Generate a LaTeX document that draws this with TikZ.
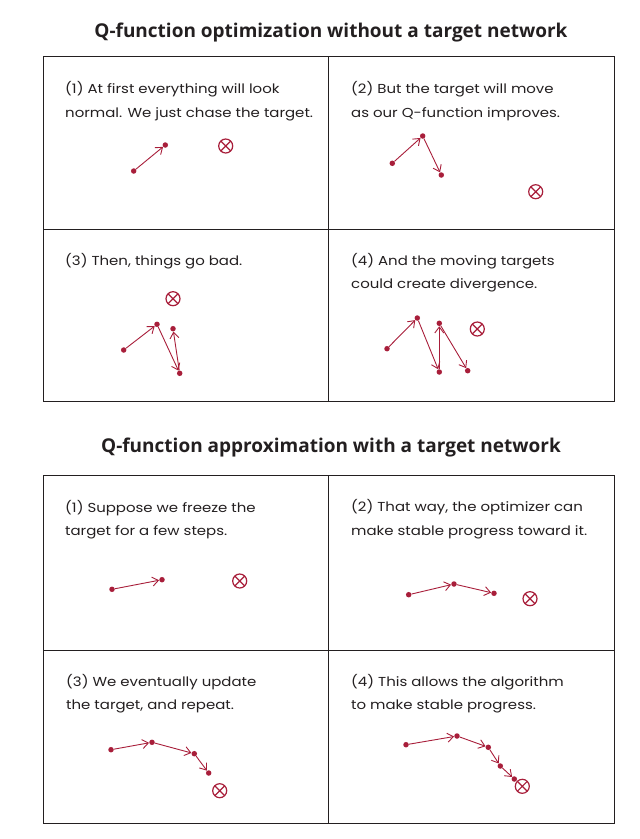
\documentclass[tikz,border=0pt]{standalone}
\usepackage{fontspec}
\setmainfont{Poppins}[FakeStretch=1.15]
\newfontfamily\titlefont{Open Sans}
\usetikzlibrary{arrows.meta}
\definecolor{crim}{RGB}{168,30,58}
\definecolor{ink}{RGB}{35,31,32}
\begin{document}
\begin{tikzpicture}[x=1pt,y=-1pt,
  panel/.style={draw=ink, line width=1.1pt, inner sep=0pt, anchor=north west},
  captxt/.style={anchor=base west, inner sep=0pt, text=ink, font=\fontsize{13}{15}\selectfont},
  ttl/.style={anchor=base, inner sep=0pt, text=ink, font=\titlefont\bfseries\fontsize{19}{21}\selectfont},
  qdot/.style={circle, fill=crim, inner sep=0pt, minimum size=5.5pt},
  arr/.style={draw=crim, line width=0.9pt, -{Straight Barb[length=6pt,width=9pt]}},
  tgt/.style={circle, draw=crim, line width=1.2pt, minimum size=14pt, inner sep=0pt,
    path picture={\draw[crim, line width=1.2pt]
      (path picture bounding box.north west) -- (path picture bounding box.south east)
      (path picture bounding box.north east) -- (path picture bounding box.south west);}}
]
\useasboundingbox (0,0) rectangle (640,839);

% titles
\node[ttl] (t1) at (331,37) {Q-function optimization without a target network};
\node[ttl] (t2) at (331,452) {Q-function approximation with a target network};

% panels top
\node[panel, minimum width=285pt, minimum height=173pt] (pA) at (43,56) {};
\node[panel, minimum width=286pt, minimum height=173pt] (pB) at (328,56) {};
\node[panel, minimum width=285pt, minimum height=172pt] (pC) at (43,229) {};
\node[panel, minimum width=286pt, minimum height=172pt] (pD) at (328,229) {};
% panels bottom
\node[panel, minimum width=285pt, minimum height=175pt] (pE) at (43,475) {};
\node[panel, minimum width=286pt, minimum height=175pt] (pF) at (328,475) {};
\node[panel, minimum width=285pt, minimum height=173pt] (pG) at (43,650) {};
\node[panel, minimum width=286pt, minimum height=173pt] (pH) at (328,650) {};

% captions
\node[captxt] (cA1) at (65,93) {(1) At first everything will look};
\node[captxt] (cA2) at (65,117) {normal. We just chase the target.};
\node[captxt] (cB1) at (351,93) {(2) But the target will move};
\node[captxt] (cB2) at (351,117) {as our Q-function improves.};
\node[captxt] (cC1) at (65,265) {(3) Then, things go bad.};
\node[captxt] (cD1) at (351,265) {(4) And the moving targets};
\node[captxt] (cD2) at (351,288) {could create divergence.};
\node[captxt] (cE1) at (65,512) {(1) Suppose we freeze the};
\node[captxt] (cE2) at (65,535) {target for a few steps.};
\node[captxt] (cF1) at (351,511) {(2) That way, the optimizer can};
\node[captxt] (cF2) at (351,535) {make stable progress toward it.};
\node[captxt] (cG1) at (66,686) {(3) We eventually update};
\node[captxt] (cG2) at (66,709) {the target, and repeat.};
\node[captxt] (cH1) at (351,686) {(4) This allows the algorithm};
\node[captxt] (cH2) at (351,709) {to make stable progress.};

% panel A
\node[qdot] (a1) at (133.7,171) {};
\node[qdot] (a2) at (165.3,145) {};
\node[tgt] (aT) at (225.7,146) {};
\draw[arr] (a1) -- (a2);

% panel B
\node[qdot] (b1) at (392.3,163.3) {};
\node[qdot] (b2) at (422.7,136) {};
\node[qdot] (b3) at (441.3,175) {};
\node[tgt] (bT) at (535.7,191.7) {};
\draw[arr] (b1) -- (b2);
\draw[arr] (b2) -- (b3);

% panel C
\node[qdot] (c1) at (123.7,350) {};
\node[qdot] (c2) at (157,324.3) {};
\node[qdot] (c3) at (179.7,373.3) {};
\node[qdot] (c4) at (173,328.7) {};
\node[tgt] (cT) at (173,298.7) {};
\draw[arr] (c1) -- (c2);
\draw[arr] (c2) -- (c3);
\draw[arr] (c3) -- (c4);

% panel D
\node[qdot] (d1) at (387,348.7) {};
\node[qdot] (d2) at (417.3,318) {};
\node[qdot] (d3) at (439.3,372) {};
\node[qdot] (d4) at (439.3,323.3) {};
\node[qdot] (d5) at (467.7,370.7) {};
\node[tgt] (dT) at (477.3,329) {};
\draw[arr] (d1) -- (d2);
\draw[arr] (d2) -- (d3);
\draw[arr] (d3) -- (d4);
\draw[arr] (d4) -- (d5);

% panel E
\node[qdot] (e1) at (112,589.3) {};
\node[qdot] (e2) at (162,579.7) {};
\node[tgt] (eT) at (239.7,581) {};
\draw[arr] (e1) -- (e2);

% panel F
\node[qdot] (f1) at (408.7,594.7) {};
\node[qdot] (f2) at (454,584) {};
\node[qdot] (f3) at (494,593.3) {};
\node[tgt] (fT) at (530,598.7) {};
\draw[arr] (f1) -- (f2);
\draw[arr] (f2) -- (f3);

% panel G
\node[qdot] (g1) at (111,749.7) {};
\node[qdot] (g2) at (152,742.3) {};
\node[qdot] (g3) at (194.3,753.7) {};
\node[qdot] (g4) at (208.7,773) {};
\node[tgt] (gT) at (219.7,790.7) {};
\draw[arr] (g1) -- (g2);
\draw[arr] (g2) -- (g3);
\draw[arr] (g3) -- (g4);

% panel H
\node[qdot] (h1) at (406,744.7) {};
\node[qdot] (h2) at (457,736) {};
\node[qdot] (h3) at (488.3,747.3) {};
\node[qdot] (h4) at (500.3,766) {};
\node[qdot] (h5) at (514.3,779) {};
\node[tgt] (hT) at (522.3,786.3) {};
\draw[arr] (h1) -- (h2);
\draw[arr] (h2) -- (h3);
\draw[arr] (h3) -- (h4);
\draw[arr] (h4) -- (h5);
\end{tikzpicture}
\end{document}
